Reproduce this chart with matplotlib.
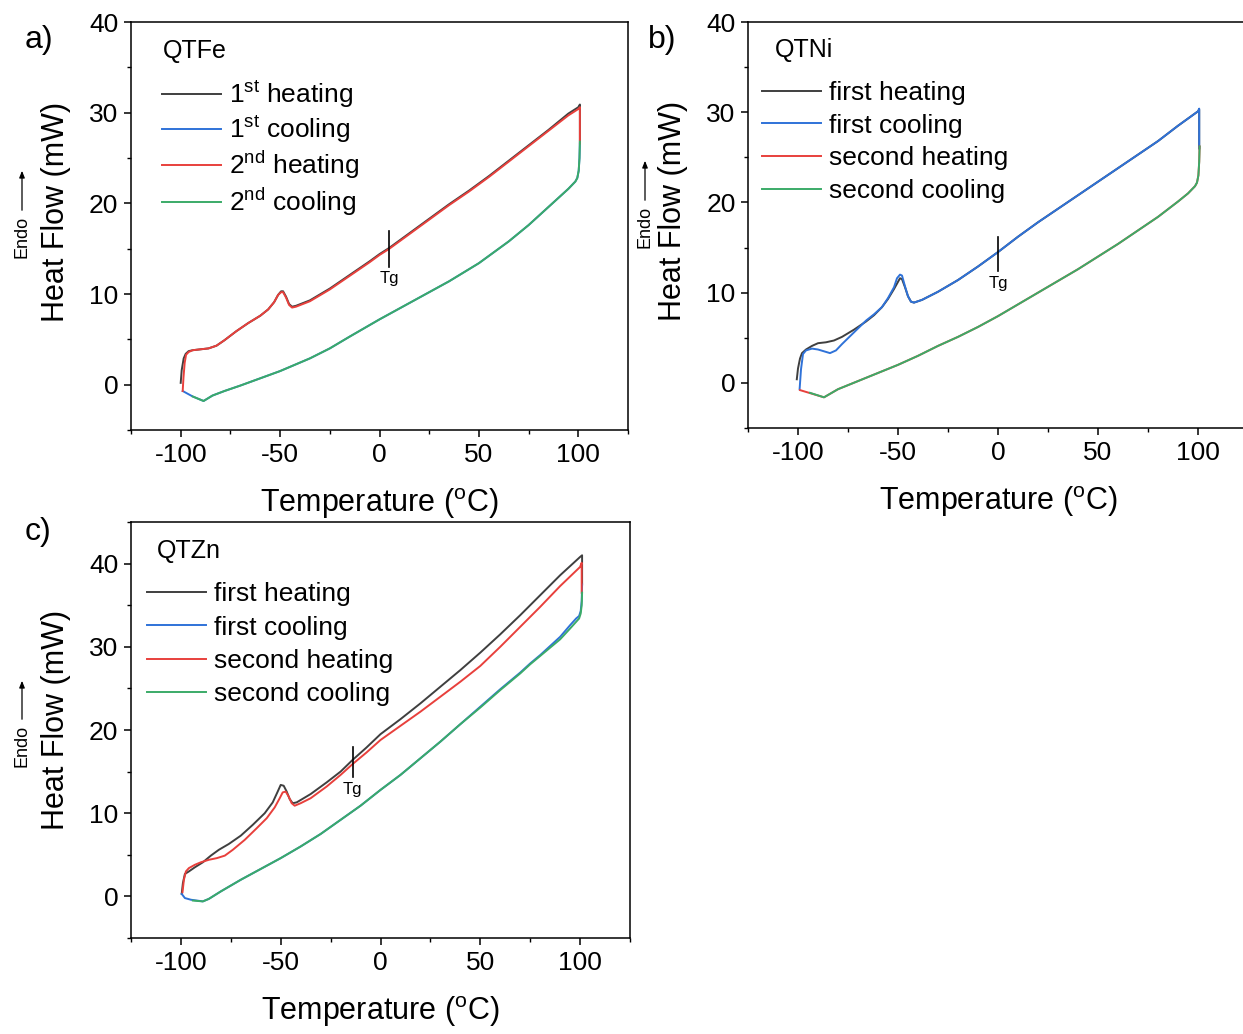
import numpy as np
import matplotlib
matplotlib.use("Agg")
import matplotlib.pyplot as plt

plt.rcParams['font.family'] = ['Liberation Sans', 'DejaVu Sans']
plt.rcParams['mathtext.fontset'] = 'custom'
plt.rcParams['mathtext.rm'] = 'Liberation Sans'
plt.rcParams['mathtext.it'] = 'Liberation Sans:italic'
plt.rcParams['mathtext.default'] = 'regular'
plt.rcParams['axes.unicode_minus'] = False

C_BLACK = '#3f3f3f'
C_BLUE = '#2f72d8'
C_RED = '#e8403c'
C_GREEN = '#3bab68'

# ---------------- panel a: QTFe ----------------
a_h1_t = [-100, -99.5, -98.5, -97.5, -96, -94, -90, -86, -82, -78, -72, -66, -60, -56, -53, -51,
          -49.5, -48.5, -47, -45.5, -44, -42, -35, -25, -15, -5, 0, 5, 15, 25, 35, 45, 55, 65,
          75, 85, 95, 100, 100.8, 100.8]
a_h1_y = [0.2, 1.6, 2.9, 3.4, 3.7, 3.8, 3.9, 4.0, 4.3, 4.9, 5.9, 6.8, 7.6, 8.3, 9.1, 9.9,
          10.3, 10.3, 9.7, 8.9, 8.6, 8.7, 9.3, 10.6, 12.1, 13.6, 14.4, 15.1, 16.7, 18.3, 19.9,
          21.4, 23.0, 24.7, 26.4, 28.1, 29.9, 30.6, 30.9, 27.0]
a_h2_t = [-99, -98.6, -98, -97.3, -96, -94, -90, -86, -82, -78, -72, -66, -60, -56, -53, -51,
          -49.5, -48.5, -47, -45.5, -44, -42, -35, -25, -15, -5, 0, 5, 15, 25, 35, 45, 55, 65,
          75, 85, 95, 100, 100.8, 100.8]
a_h2_y = [-0.7, 0.8, 2.4, 3.3, 3.6, 3.8, 3.9, 4.0, 4.3, 4.9, 5.9, 6.8, 7.6, 8.3, 9.1, 9.9,
          10.2, 10.2, 9.6, 8.8, 8.5, 8.6, 9.2, 10.5, 12.0, 13.5, 14.3, 15.0, 16.6, 18.2, 19.8,
          21.3, 22.9, 24.6, 26.3, 28.0, 29.7, 30.4, 30.6, 26.6]
a_c1_t = [100.8, 100.6, 100.2, 99.5, 98.5, 95, 90, 85, 75, 65, 50, 35, 25, 15, 0, -15, -25,
          -35, -50, -60, -70, -78, -84, -88.5, -94, -99]
a_c1_y = [26.8, 25.0, 23.6, 22.8, 22.4, 21.6, 20.6, 19.6, 17.6, 15.8, 13.4, 11.4, 10.2, 9.0,
          7.2, 5.3, 4.0, 2.9, 1.5, 0.7, -0.1, -0.7, -1.2, -1.8, -1.3, -0.7]
a_c2_t = [100.8, 100.6, 100.2, 99.5, 98.5, 95, 90, 85, 75, 65, 50, 35, 25, 15, 0, -15, -25,
          -35, -50, -60, -70, -78, -84, -88.5, -94]
a_c2_y = [26.8, 25.0, 23.6, 22.8, 22.4, 21.6, 20.6, 19.6, 17.6, 15.8, 13.4, 11.4, 10.2, 9.0,
          7.2, 5.3, 4.0, 2.9, 1.5, 0.7, -0.1, -0.7, -1.2, -1.8, -1.3]

# ---------------- panel b: QTNi ----------------
b_h1_t = [-100.6, -100, -99, -98, -96, -93, -90, -86, -82, -78, -72, -66, -62, -58, -55, -52,
          -50, -49, -48, -46.5, -45, -43.5, -42, -38, -30, -20, -10, 0, 10, 20, 30, 40, 50, 60,
          70, 80, 90, 100, 100.6, 100.6]
b_h1_y = [0.4, 1.6, 2.7, 3.3, 3.7, 4.1, 4.4, 4.5, 4.7, 5.1, 5.9, 6.8, 7.5, 8.4, 9.3, 10.4,
          11.2, 11.6, 11.5, 10.6, 9.6, 9.0, 8.9, 9.2, 10.1, 11.4, 12.9, 14.5, 16.2, 17.8, 19.3,
          20.8, 22.3, 23.8, 25.3, 26.8, 28.5, 30.1, 30.3, 26.0]
b_c1_t = [-99.2, -98.5, -97.5, -96, -93, -90, -87, -84, -81, -78, -72, -66, -62, -58, -55,
          -52, -50.5, -49, -48, -46.5, -45, -43.5, -42, -38, -30, -20, -10, 0, 10, 20, 30, 40,
          50, 60, 70, 80, 90, 100, 100.6, 100.6]
b_c1_y = [-0.7, 1.5, 3.2, 3.6, 3.8, 3.7, 3.5, 3.3, 3.6, 4.3, 5.6, 6.9, 7.6, 8.4, 9.4, 10.6,
          11.6, 12.0, 11.9, 10.7, 9.6, 9.0, 8.9, 9.2, 10.1, 11.4, 12.9, 14.5, 16.2, 17.8, 19.3,
          20.8, 22.3, 23.8, 25.3, 26.8, 28.5, 30.1, 30.4, 26.0]
b_h2_t = [100.8, 100.6, 100.2, 99.5, 98.5, 95, 90, 80, 70, 60, 50, 40, 30, 20, 10, 0, -10,
          -20, -30, -40, -50, -60, -70, -80, -87, -93, -99]
b_h2_y = [26.2, 24.5, 23.0, 22.2, 21.8, 21.0, 20.1, 18.4, 16.9, 15.4, 14.0, 12.6, 11.3, 10.0,
          8.7, 7.4, 6.2, 5.1, 4.1, 3.0, 2.0, 1.1, 0.2, -0.7, -1.6, -1.2, -0.8]
b_c2_t = [100.8, 100.6, 100.2, 99.5, 98.5, 95, 90, 80, 70, 60, 50, 40, 30, 20, 10, 0, -10,
          -20, -30, -40, -50, -60, -70, -80, -87, -94]
b_c2_y = [26.2, 24.5, 23.0, 22.2, 21.8, 21.0, 20.1, 18.4, 16.9, 15.4, 14.0, 12.6, 11.3, 10.0,
          8.7, 7.4, 6.2, 5.1, 4.1, 3.0, 2.0, 1.1, 0.2, -0.7, -1.6, -1.1]

# ---------------- panel c: QTZn ----------------
c_h1_t = [-99.6, -99, -98, -96, -93, -89, -85, -81, -76, -70, -64, -58, -54, -51.5, -50,
          -48.5, -47, -45.5, -44, -42, -35, -27, -20, -14, -7, 0, 10, 20, 30, 40, 50, 60, 70,
          80, 90, 100, 101, 101]
c_h1_y = [0.3, 1.6, 2.7, 3.0, 3.5, 4.1, 4.9, 5.6, 6.3, 7.3, 8.6, 10.0, 11.3, 12.6, 13.4,
          13.3, 12.6, 11.7, 11.2, 11.3, 12.3, 13.7, 15.0, 16.4, 17.9, 19.5, 21.3, 23.2, 25.2,
          27.2, 29.3, 31.5, 33.8, 36.2, 38.6, 40.8, 41.0, 37.5]
c_h2_t = [-99.2, -98.5, -97.5, -96, -93, -90, -86, -82, -78, -74, -68, -62, -57, -53, -50.5,
          -49, -47.5, -46, -44.5, -43, -40, -35, -27, -20, -14, -7, 0, 10, 20, 30, 40, 50, 60,
          70, 80, 90, 100, 100.8, 100.8]
c_h2_y = [0.5, 2.0, 3.0, 3.4, 3.8, 4.1, 4.4, 4.6, 4.9, 5.6, 6.8, 8.2, 9.4, 10.7, 11.8, 12.5,
          12.6, 12.0, 11.2, 10.9, 11.2, 11.8, 13.2, 14.6, 15.9, 17.3, 18.8, 20.5, 22.2, 24.0,
          25.8, 27.7, 30.0, 32.4, 34.8, 37.3, 39.6, 40.1, 36.5]
c_c1_t = [101, 100.8, 100.3, 99.5, 98, 95, 90, 80, 75, 70, 60, 50, 40, 30, 20, 10, 0, -10,
          -20, -30, -40, -50, -60, -70, -80, -86, -89, -95, -98, -99.6]
c_c1_y = [37.5, 35.5, 34.3, 33.7, 33.4, 32.6, 31.2, 29.0, 28.0, 26.9, 24.9, 22.8, 20.7, 18.6,
          16.6, 14.6, 12.8, 10.9, 9.2, 7.5, 6.0, 4.6, 3.3, 2.0, 0.6, -0.3, -0.6, -0.4, -0.2, 0.3]
c_c2_t = [101, 100.8, 100.3, 99.5, 98, 95, 90, 80, 75, 70, 60, 50, 40, 30, 20, 10, 0, -10,
          -20, -30, -40, -50, -60, -70, -80, -86, -89, -94]
c_c2_y = [36.5, 35.0, 34.0, 33.4, 33.0, 32.2, 30.9, 28.9, 27.9, 26.8, 24.8, 22.7, 20.7, 18.6,
          16.6, 14.6, 12.8, 10.9, 9.2, 7.5, 6.0, 4.6, 3.3, 2.0, 0.6, -0.3, -0.6, -0.5]

labels_a = ['1$^{st}$ heating', '1$^{st}$ cooling', '2$^{nd}$ heating', '2$^{nd}$ cooling']
labels_bc = ['first heating', 'first cooling', 'second heating', 'second cooling']

tg_a = (5, 13.0, 16.9)
tg_b = (0, 12.4, 16.2)
tg_c = (-14, 14.3, 18.0)

W, H = 1243, 1034
fig = plt.figure(figsize=(W / 100, H / 100), dpi=100)


def px_axes(l, t, r, b):
    return fig.add_axes([l / W, 1 - b / H, (r - l) / W, (b - t) / H])


def setup(ax, ylim, yticks):
    ax.set_xlim(-125, 125)
    ax.set_ylim(*ylim)
    ax.set_xticks([-100, -50, 0, 50, 100])
    ax.set_xticks([-125, -75, -25, 25, 75, 125], minor=True)
    ax.set_yticks(yticks)
    ax.set_yticks(np.arange(ylim[0], ylim[1] + 0.1, 5), minor=True)
    ax.tick_params(which='major', direction='out', length=5, width=1.1, labelsize=19, pad=4,
                   top=False, right=False)
    ax.tick_params(which='minor', direction='out', length=3, width=1.0, top=False, right=False)
    for s in ax.spines.values():
        s.set_linewidth(1.1)
    ax.set_xlabel('Temperature ($^{o}$C)', fontsize=22, labelpad=14)
    ax.set_ylabel('Heat Flow (mW)', fontsize=22)


def draw(ax, series, labels, name, tg, leg_x, leg_y, spacing, name_x):
    cols = [C_BLACK, C_BLUE, C_RED, C_GREEN]
    lines = []
    for (t, y), c, lab in zip(series, cols, labels):
        ln, = ax.plot(t, y, color=c, lw=1.4, label=lab)
        lines.append(ln)
    ax.legend(handles=lines, loc='upper left', bbox_to_anchor=(leg_x, leg_y), frameon=False,
              fontsize=19, handlelength=2.25, handletextpad=0.3, labelspacing=spacing,
              borderpad=0, borderaxespad=0)
    ax.text(name_x, 0.93, name, transform=ax.transAxes, fontsize=18, va='center', ha='left')
    ax.plot([tg[0], tg[0]], [tg[1], tg[2]], color='black', lw=1.2)
    ax.text(tg[0], tg[1] - 0.5, 'Tg', fontsize=12, ha='center', va='top')


def endo(x, y0, y1):
    fig.text(x / W, 1 - (y1 + 24) / H, 'Endo', rotation=90, fontsize=13, ha='center',
             va='center')
    fig.add_artist(matplotlib.patches.FancyArrowPatch(
        (x / W, 1 - y1 / H), (x / W, 1 - y0 / H), transform=fig.transFigure,
        arrowstyle='-|>,head_length=4,head_width=1.6', color='black', lw=0.9))


ax_a = px_axes(131, 22, 628, 430)
setup(ax_a, (-5, 40), [0, 10, 20, 30, 40])
draw(ax_a, [(a_h1_t, a_h1_y), (a_c1_t, a_c1_y), (a_h2_t, a_h2_y), (a_c2_t, a_c2_y)],
     labels_a, 'QTFe', tg_a, 0.062, 0.86, 0.16, 0.065)
ax_a.yaxis.set_label_coords(-0.12, 0.535)

ax_b = px_axes(748, 22, 1248, 428)
setup(ax_b, (-5, 40), [0, 10, 20, 30, 40])
draw(ax_b, [(b_h1_t, b_h1_y), (b_c1_t, b_c1_y), (b_h2_t, b_h2_y), (b_c2_t, b_c2_y)],
     labels_bc, 'QTNi', tg_b, 0.028, 0.855, 0.33, 0.054)
ax_b.yaxis.set_label_coords(-0.12, 0.535)

ax_c = px_axes(131, 522, 630, 938)
setup(ax_c, (-5, 45), [0, 10, 20, 30, 40])
draw(ax_c, [(c_h1_t, c_h1_y), (c_c1_t, c_c1_y), (c_h2_t, c_h2_y), (c_c2_t, c_c2_y)],
     labels_bc, 'QTZn', tg_c, 0.032, 0.855, 0.35, 0.052)
ax_c.yaxis.set_label_coords(-0.12, 0.524)

endo(22, 168, 213)
endo(645, 158, 203)
endo(22, 678, 722)

fig.text(25 / W, 1 - 40 / H, 'a)', fontsize=23, va='center', ha='left')
fig.text(648 / W, 1 - 40 / H, 'b)', fontsize=23, va='center', ha='left')
fig.text(25 / W, 1 - 532 / H, 'c)', fontsize=23, va='center', ha='left')

fig.savefig('out.png', dpi=100)
